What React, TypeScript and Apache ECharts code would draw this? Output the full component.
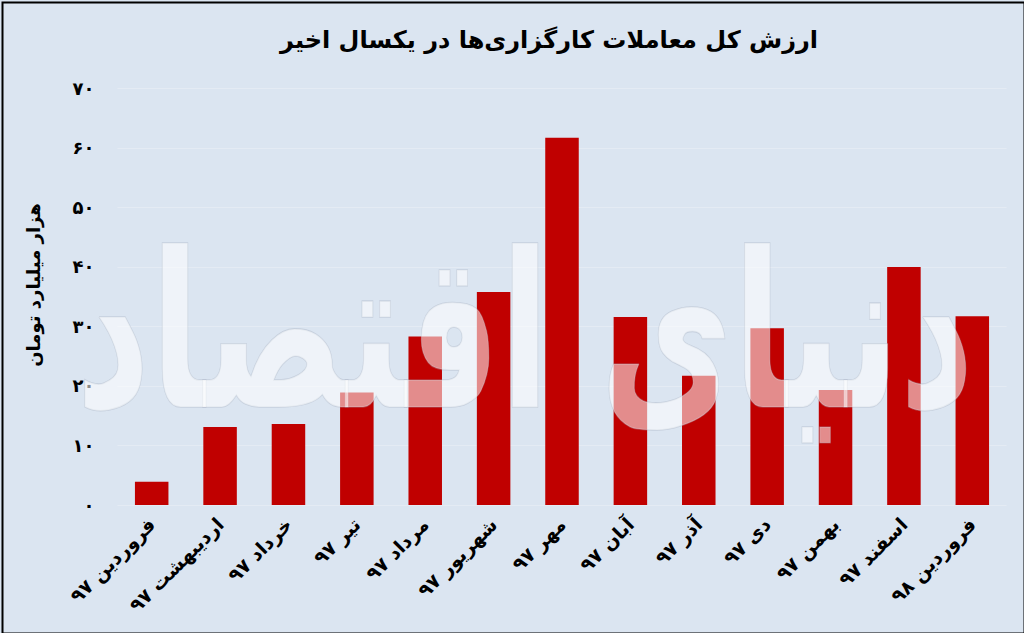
import React, { useEffect, useRef } from "react";
import * as echarts from "echarts";

const categories = [
  "فروردین ۹۷",
  "اردیبهشت ۹۷",
  "خرداد ۹۷",
  "تیر ۹۷",
  "مرداد ۹۷",
  "شهریور ۹۷",
  "مهر ۹۷",
  "آبان ۹۷",
  "آذر ۹۷",
  "دی ۹۷",
  "بهمن ۹۷",
  "اسفند ۹۷",
  "فروردین ۹۸",
];

const values = [3.9, 13.1, 13.6, 18.9, 28.3, 35.8, 61.7, 31.6, 21.7, 29.7, 19.3, 40.0, 31.7];

const yTickLabels = ["۰", "۱۰", "۲۰", "۳۰", "۴۰", "۵۰", "۶۰", "۷۰"];

const titleText = "ارزش کل معاملات کارگزاری‌ها در یکسال اخیر";
const yAxisName = "هزار میلیارد تومان";
const watermarkText = "دنیای اقتصاد";

const FONT = "'DejaVu Sans', 'Noto Sans', sans-serif";

export default function App() {
  const ref = useRef<HTMLDivElement>(null);

  useEffect(() => {
    if (!ref.current) return;
    const chart = echarts.init(ref.current, null, { renderer: "svg" });
    chart.setOption({
      animation: false,
      backgroundColor: "#dbe5f1",
      grid: { left: 117.5, right: 17.5, top: 88.3, bottom: 128, containLabel: false },
      xAxis: {
        type: "category",
        data: categories,
        axisLine: { show: false },
        axisTick: { show: false },
        axisLabel: {
          rotate: 45,
          interval: 0,
          margin: 16,
          color: "#000",
          fontFamily: FONT,
          fontWeight: "bold",
          fontSize: 19,
        },
      },
      yAxis: {
        type: "value",
        min: 0,
        max: 70,
        interval: 10,
        axisLine: { show: false },
        axisTick: { show: false },
        splitLine: { show: true, lineStyle: { color: "#e4ebf4", width: 1 } },
        axisLabel: {
          margin: 23,
          color: "#000",
          fontFamily: FONT,
          fontWeight: "bold",
          fontSize: 18,
          formatter: (v: number) => yTickLabels[Math.round(v / 10)] ?? String(v),
        },
      },
      series: [
        {
          type: "bar",
          data: values,
          barCategoryGap: "51%",
          itemStyle: { color: "#c00000" },
          z: 2,
        },
      ],
      graphic: [
        {
          type: "rect",
          left: 0,
          top: 0,
          shape: { x: 1, y: 1, width: 1022, height: 631 },
          style: { fill: "none", stroke: "#000", lineWidth: 2 },
          z: 100,
        },
        {
          type: "text",
          x: 549,
          y: 40,
          style: {
            text: titleText,
            fontFamily: FONT,
            fontWeight: "bold",
            fontSize: 24,
            fill: "#000",
            textAlign: "center",
            textVerticalAlign: "middle",
          },
          z: 100,
        },
        {
          type: "text",
          x: 33,
          y: 285,
          rotation: Math.PI / 2,
          style: {
            text: yAxisName,
            fontFamily: FONT,
            fontWeight: "bold",
            fontSize: 18,
            fill: "#000",
            textAlign: "center",
            textVerticalAlign: "middle",
          },
          z: 100,
        },
        {
          type: "text",
          x: 525,
          y: 332,
          scaleX: 1.07,
          scaleY: 1.6,
          style: {
            text: watermarkText,
            fontFamily: FONT,
            fontWeight: "bold",
            fontSize: 135,
            fill: "rgba(255,255,255,0.55)",
            stroke: "rgba(160,170,185,0.35)",
            lineWidth: 1,
            textAlign: "center",
            textVerticalAlign: "middle",
          },
          z: 50,
        },
      ],
    });
    return () => chart.dispose();
  }, []);

  return (
    <div
      ref={ref}
      style={{ position: "fixed", left: 0, top: 0, width: 1024, height: 633 }}
    />
  );
}
